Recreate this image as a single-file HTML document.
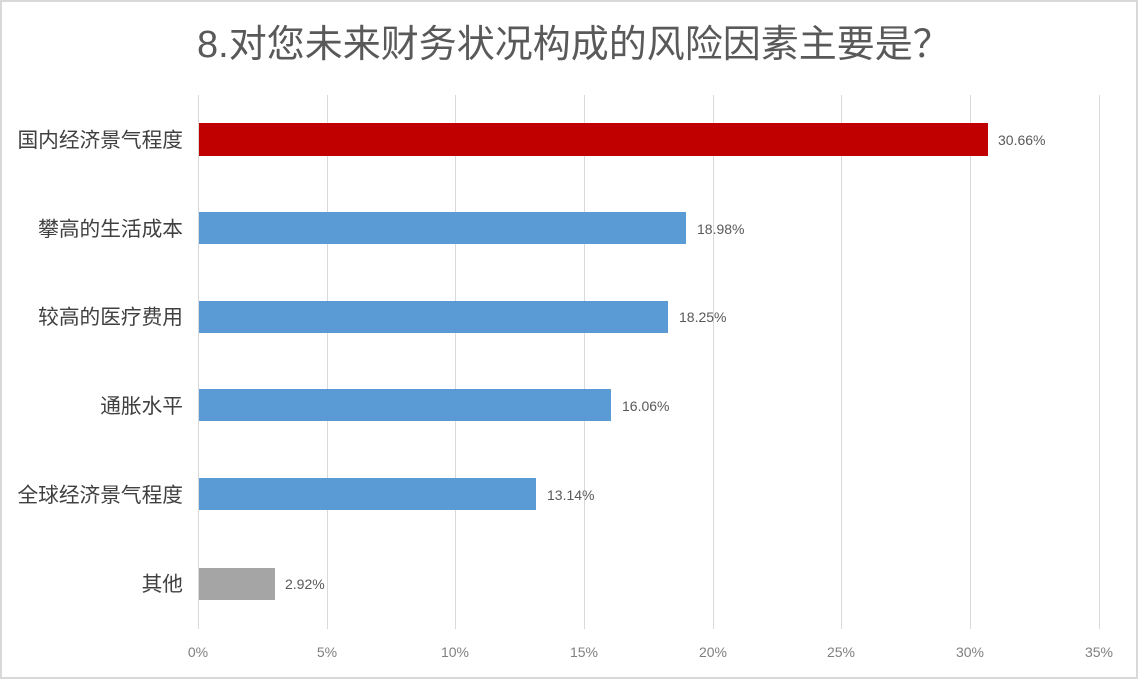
<!DOCTYPE html>
<html><head><meta charset="utf-8"><style>
html,body{margin:0;padding:0;background:#fff}
</style></head><body>
<svg width="1138" height="679" xmlns="http://www.w3.org/2000/svg" font-family="'Liberation Sans','Noto Sans CJK SC',sans-serif">
<rect x="1" y="1" width="1136" height="677" fill="#fff" stroke="#d9d9d9" stroke-width="2"/>
<text x="197" y="57" font-size="38" fill="#595959">8.对您未来财务状况构成的风险因素主要是<tspan font-family="'WenQuanYi Zen Hei',sans-serif">？</tspan></text>
<g stroke="#d9d9d9" stroke-width="1">
<line x1="198.5" y1="95" x2="198.5" y2="629"/>
<line x1="327.5" y1="95" x2="327.5" y2="629"/>
<line x1="455.5" y1="95" x2="455.5" y2="629"/>
<line x1="584.5" y1="95" x2="584.5" y2="629"/>
<line x1="713.5" y1="95" x2="713.5" y2="629"/>
<line x1="841.5" y1="95" x2="841.5" y2="629"/>
<line x1="970.5" y1="95" x2="970.5" y2="629"/>
<line x1="1099.5" y1="95" x2="1099.5" y2="629"/>
</g>
<g fill="#7f7f7f" font-size="14" text-anchor="middle">
<text x="198" y="657">0%</text><text x="327" y="657">5%</text><text x="455" y="657">10%</text><text x="584" y="657">15%</text><text x="713" y="657">20%</text><text x="841" y="657">25%</text><text x="970" y="657">30%</text><text x="1099" y="657">35%</text>
</g>
<rect x="199" y="123" width="789" height="33" fill="#c00000"/>
<rect x="199" y="212" width="487" height="32" fill="#5b9bd5"/>
<rect x="199" y="301" width="469" height="32" fill="#5b9bd5"/>
<rect x="199" y="389" width="412" height="32" fill="#5b9bd5"/>
<rect x="199" y="478" width="337" height="32" fill="#5b9bd5"/>
<rect x="199" y="568" width="76" height="32" fill="#a5a5a5"/>
<g fill="#595959" font-size="14">
<text x="998" y="145">30.66%</text>
<text x="697" y="234">18.98%</text>
<text x="679" y="322">18.25%</text>
<text x="622" y="411">16.06%</text>
<text x="547" y="500">13.14%</text>
<text x="285" y="589">2.92%</text>
</g>
<g fill="#404040" font-size="20.7" text-anchor="end">
<text x="183" y="147">国内经济景气程度</text>
<text x="183" y="236">攀高的生活成本</text>
<text x="183" y="324">较高的医疗费用</text>
<text x="183" y="413">通胀水平</text>
<text x="183" y="502">全球经济景气程度</text>
<text x="183" y="591">其他</text>
</g>
</svg>
</body></html>
